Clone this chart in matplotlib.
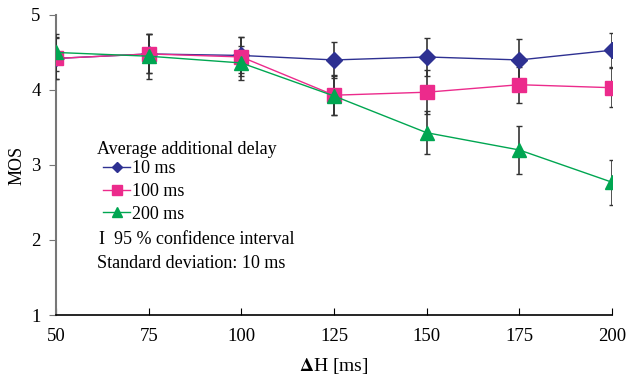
import matplotlib
matplotlib.use("Agg")
import matplotlib.pyplot as plt
from matplotlib.lines import Line2D

plt.rcParams['font.family'] = ['Liberation Serif', 'DejaVu Serif']
plt.rcParams['mathtext.fontset'] = 'stix'

delta_h = [50, 75, 100, 125, 150, 175, 200]

mos_10 = [4.42, 4.48, 4.46, 4.40, 4.44, 4.40, 4.53]
mos_100 = [4.42, 4.48, 4.44, 3.93, 3.97, 4.07, 4.03]
mos_200 = [4.50, 4.45, 4.36, 3.92, 3.43, 3.20, 2.77]

ci_10 = [0.28, 0.26, 0.24, 0.24, 0.25, 0.28, 0.23]
ci_100 = [0.27, 0.26, 0.26, 0.27, 0.29, 0.24, 0.26]
ci_200 = [0.25, 0.30, 0.23, 0.26, 0.29, 0.32, 0.30]

labels = ["10 ms", "100 ms", "200 ms"]
colors = ["#2e3192", "#ec2b8c", "#00a651"]
markers = ["D", "s", "^"]
sizes = [8, 10, 10]

fig = plt.figure(figsize=(6.29, 3.83), dpi=100)
ax = fig.add_axes([0.089, 0.1775, 0.884, 0.7835])

handles = []
for mos, ci, lab, c, m, ms in zip([mos_10, mos_100, mos_200], [ci_10, ci_100, ci_200],
                                  labels, colors, markers, sizes):
    ax.errorbar(delta_h, mos, yerr=ci, color=c, marker=m, markersize=ms, linewidth=1,
                ecolor="#333333", elinewidth=1.2, capsize=2.5, capthick=1,
                zorder=3)
    handles.append(Line2D([], [], color=c, marker=m, markersize=ms * 0.7,
                          linewidth=1, label=lab))

ax.set_xlim(50, 200)
ax.set_ylim(1, 5)
ax.set_xticks(delta_h)
ax.set_yticks([1, 2, 3, 4, 5])
ax.spines['top'].set_visible(False)
ax.spines['right'].set_visible(False)
ax.spines['left'].set_color("#777777")
ax.spines['left'].set_linewidth(1.5)
ax.spines['bottom'].set_linewidth(1.2)
ax.tick_params(axis='x', direction='in', length=5, labelsize=13.5, pad=9)
ax.tick_params(axis='y', direction='out', length=5, labelsize=13.5, pad=6, color="#777777")
ax.set_ylabel("MOS", fontsize=13, labelpad=4)
ax.set_xlabel(r"$\mathbf{\Delta}$H [ms]", fontsize=14, labelpad=8)

ax.text(0.074, 0.55, "Average additional delay", transform=ax.transAxes,
        fontsize=13, va="center")
leg = ax.legend(handles=handles, loc="upper left",
                bbox_to_anchor=(0.085, 0.517), frameon=False, fontsize=13,
                handlelength=1.5, handletextpad=0.1, borderpad=0,
                labelspacing=0.33, borderaxespad=0)

ax.text(0.078, 0.25, "I  95 % confidence interval", transform=ax.transAxes,
        fontsize=13, va="center")
ax.text(0.074, 0.173, "Standard deviation: 10 ms", transform=ax.transAxes,
        fontsize=13, va="center")

fig.savefig("out.png", dpi=100)
